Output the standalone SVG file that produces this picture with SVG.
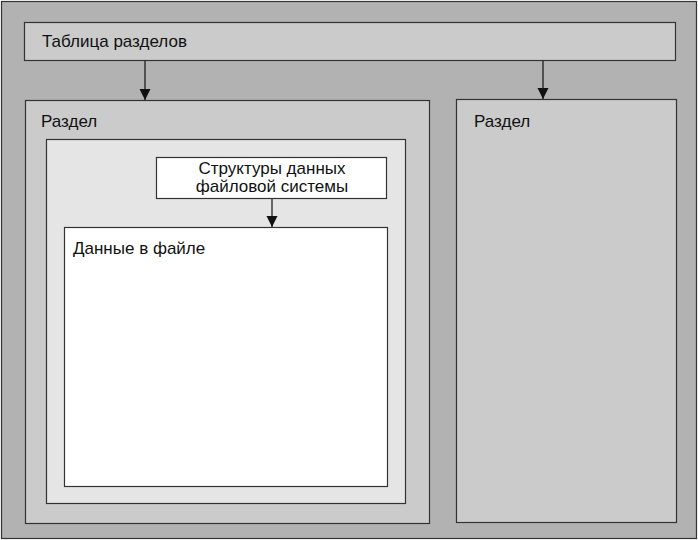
<svg xmlns="http://www.w3.org/2000/svg" width="698" height="540" viewBox="0 0 698 540">
<style>
.box{stroke:#333;stroke-width:1.2}
.t{font-family:"Liberation Sans",Arial,sans-serif;font-size:17px;fill:#111}
.c{stroke:#111;stroke-width:1.2;fill:none}
</style>
<defs>
<marker id="ah" markerWidth="12" markerHeight="12" refX="11" refY="6" orient="auto" markerUnits="userSpaceOnUse">
<path d="M0,0.5 L11,6 L0,11.5 z" fill="#111"/>
</marker>
</defs>
<g id="outer"><rect class="box" x="1.5" y="1.5" width="695" height="537" fill="#b2b2b2" stroke-width="2"/></g>
<g id="table"><rect class="box" x="24.5" y="22.5" width="651" height="38" fill="#cbcbcb"/>
<text class="t" x="42" y="47">Таблица разделов</text></g>
<g id="part1"><rect class="box" x="25.5" y="100.5" width="404" height="423" fill="#cbcbcb"/>
<text class="t" x="41" y="127">Раздел</text></g>
<g id="part2"><rect class="box" x="456.5" y="99.5" width="220" height="423" fill="#cbcbcb"/>
<text class="t" x="474" y="127">Раздел</text></g>
<g id="fs"><rect class="box" x="46.5" y="139.5" width="359" height="364" fill="#e5e5e5"/></g>
<g id="struct"><rect class="box" x="156.5" y="157.5" width="230" height="41" fill="#fff"/>
<text class="t" x="272" y="174" text-anchor="middle">Структуры данных</text>
<text class="t" x="272" y="192" text-anchor="middle">файловой системы</text></g>
<g id="data"><rect class="box" x="64.5" y="227.5" width="323" height="259" fill="#fff"/>
<text class="t" x="73" y="254">Данные в файле</text></g>
<g id="connectors">
<line class="c" x1="145" y1="61" x2="145" y2="100" marker-end="url(#ah)"/>
<line class="c" x1="543" y1="61" x2="543" y2="99" marker-end="url(#ah)"/>
<line class="c" x1="272" y1="199" x2="272" y2="227" marker-end="url(#ah)"/>
</g>
</svg>
